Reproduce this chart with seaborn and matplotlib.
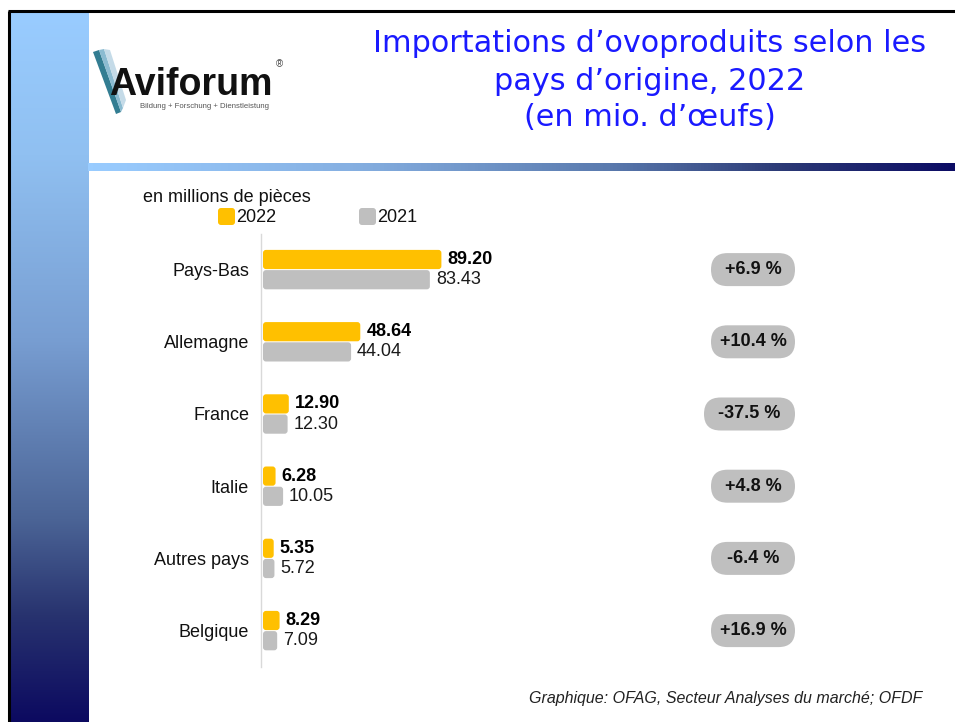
import numpy as np
import pandas as pd
import matplotlib
matplotlib.use("Agg")
import matplotlib.pyplot as plt
import seaborn as sns
from matplotlib.patches import FancyBboxPatch, Polygon
from matplotlib.colors import LinearSegmentedColormap

# ---------------- data ----------------
countries = ["Pays-Bas", "Allemagne", "France", "Italie", "Autres pays", "Belgique"]
values_2022 = [89.20, 48.64, 12.90, 6.28, 5.35, 8.29]
values_2021 = [83.43, 44.04, 12.30, 10.05, 5.72, 7.09]
changes = ["+6.9 %", "+10.4 %", "-37.5 %", "+4.8 %", "-6.4 %", "+16.9 %"]
years = ["2022", "2021"]

title_lines = ["Importations d\u2019ovoproduits selon les",
               "pays d\u2019origine, 2022",
               "(en mio. d\u2019\u0153ufs)"]
unit_label = "en millions de pi\u00e8ces"
source = "Graphique: OFAG, Secteur Analyses du march\u00e9; OFDF"

df = pd.DataFrame({
    "pays": countries * 2,
    "annee": [years[0]] * len(countries) + [years[1]] * len(countries),
    "valeur": values_2022 + values_2021,
})

# ---------------- figure ----------------
W, H = 955, 722
sns.set_theme(style="white")
plt.rcParams["font.family"] = ["Liberation Sans", "DejaVu Sans"]

fig = plt.figure(figsize=(W / 100, H / 100), dpi=100)
fig.patch.set_facecolor("white")

bg = fig.add_axes([0, 0, 1, 1])
bg.axis("off")

# sidebar gradient
side_cmap = LinearSegmentedColormap.from_list(
    "side", [(0, "#99CCFF"), (0.2, "#90C0F1"), (0.46, "#789ED2"),
             (0.715, "#4B6496"), (0.85, "#28336F"), (1, "#0C0A60")])
grad_v = np.linspace(0, 1, 256).reshape(-1, 1)
bg.imshow(grad_v, cmap=side_cmap, extent=[10, 88, H, 12], aspect="auto",
          origin="upper", interpolation="bilinear")

# header rule gradient
head_cmap = LinearSegmentedColormap.from_list(
    "head", [(0, "#99CCFF"), (0.3, "#86B0E2"), (0.6, "#5A7AAE"),
             (0.8, "#2C3A76"), (1, "#0C0C64")])
grad_h = np.linspace(0, 1, 256).reshape(1, -1)
bg.imshow(grad_h, cmap=head_cmap, extent=[88, W, 171, 163], aspect="auto",
          interpolation="bilinear")

# frame
bg.plot([9, 9], [11, H], color="black", lw=2.2, solid_capstyle="butt")
bg.plot([8, W], [11, 11], color="black", lw=2.2, solid_capstyle="butt")

bg.set_xlim(0, W)
bg.set_ylim(H, 0)

# logo
for pts, col in [
    ([(93, 52), (99, 50), (121, 112), (116, 114)], "#1D6F86"),
    ([(99, 50), (104, 49), (123, 108), (121, 112)], "#7FB4CC"),
    ([(104, 49), (110, 50), (126, 100), (123, 108)], "#BFD8E6"),
]:
    bg.add_patch(Polygon(pts, closed=True, facecolor=col, edgecolor="none", alpha=0.9))
bg.text(109, 95, "Aviforum", fontsize=27, fontweight="bold", color="#111111",
        ha="left", va="baseline", family=["Liberation Sans", "DejaVu Sans"])
bg.text(276, 64, "\u00ae", fontsize=7, color="#444444", ha="left", va="center")
bg.text(140, 106, "Bildung + Forschung + Dienstleistung", fontsize=5.6,
        color="#555555", ha="left", va="center")

# title
for line, yy in zip(title_lines, [44, 81, 118]):
    bg.text(650, yy, line, fontsize=21.8, color="#1A1AFF", ha="center", va="center",
            family=["DejaVu Sans"])

# unit + legend
bg.text(143, 197, unit_label, fontsize=13, ha="left", va="center", color="#111111")
leg_cols = ["#FFC000", "#BFBFBF"]
for (x0, yr, col) in [(218, years[0], leg_cols[0]), (359, years[1], leg_cols[1])]:
    bg.add_patch(FancyBboxPatch((x0, 208), 17, 17,
                                boxstyle="round,pad=0,rounding_size=3",
                                facecolor=col, edgecolor="none"))
    bg.text(x0 + 18, 217, yr, fontsize=13, ha="left", va="center", color="#111111")

# source
bg.text(922, 699, source, fontsize=11.5, style="italic", ha="right", va="center",
        color="#222222")

# ---------------- bar chart ----------------
ax_left, ax_right = 261, 699
ax_top, ax_bot = 233.5, 666.7
ax = fig.add_axes([ax_left / W, 1 - ax_bot / H, (ax_right - ax_left) / W,
                   (ax_bot - ax_top) / H])
ax.set_facecolor("none")
sns.barplot(data=df, y="pays", x="valeur", hue="annee", hue_order=years,
            palette=leg_cols, orient="h", width=0.56, gap=0.05,
            saturation=1, legend=False, ax=ax, errorbar=None)
ax.set_xlim(-1, 218)
ax.set_ylim(len(countries) - 0.5, -0.5)

px_x = (ax_right - ax_left) / 219.0
px_y = (ax_bot - ax_top) / len(countries)
r = 3.0
for p in list(ax.patches):
    x0, y0, w, h = p.get_x(), p.get_y(), p.get_width(), p.get_height()
    col = p.get_facecolor()
    fb = FancyBboxPatch((x0, y0), w, h,
                        boxstyle=f"round,pad=0,rounding_size={r / px_x}",
                        mutation_aspect=px_x / px_y,
                        facecolor=col, edgecolor="none")
    p.remove()
    ax.add_patch(fb)
    yc = y0 + h / 2
    is_new = yc < round(yc)
    ax.text(w + 6 / px_x, yc, f"{w:.2f}", ha="left", va="center", fontsize=13,
            fontweight="bold" if is_new else "normal",
            color="#000000" if is_new else "#1a1a1a")

ax.set_xlabel("")
ax.set_ylabel("")
ax.set_xticks([])
ax.tick_params(axis="y", length=0, pad=8.6, labelsize=13, labelcolor="#111111")
for s in ["top", "right", "bottom"]:
    ax.spines[s].set_visible(False)
ax.spines["left"].set_color("#D9D9D9")
ax.spines["left"].set_linewidth(1.0)

# change pills
pill_w = {"-37.5 %": 91}
for i, pct in enumerate(changes):
    _, ydisp = ax.transData.transform((0, i))
    yc = H - ydisp
    w = pill_w.get(pct, 84)
    bg.add_patch(FancyBboxPatch((795 - w, yc - 16.5), w, 33,
                                boxstyle="round,pad=0,rounding_size=16.5",
                                facecolor="#BFBFBF", edgecolor="none"))
    bg.text(795 - w / 2, yc, pct, ha="center", va="center", fontsize=13,
            fontweight="bold", color="#111111")

fig.savefig("out.png", dpi=100)
